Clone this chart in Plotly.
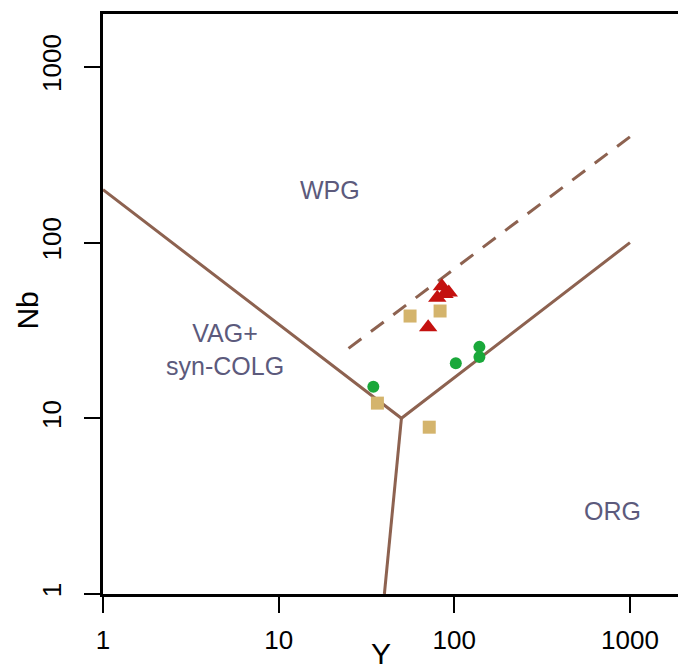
import plotly.graph_objects as go
import numpy as np

# Boundary lines (Pearce et al. 1984 Nb-Y)
bound1_y = [1, 50, 1000]
bound1_nb = [200, 10, 100]
bound2_y = [50, 40]
bound2_nb = [10, 1]
dash_y = [25, 1000]
dash_nb = [25, 400]

# Samples
tri_y = [85, 93, 80, 88, 71]
tri_nb = [56.5, 52, 48.5, 51, 33]
sq_y = [36.5, 56, 83, 72]
sq_nb = [12.2, 38.2, 40.8, 8.9]
ci_y = [34.6, 102, 139, 139]
ci_nb = [15.1, 20.6, 25.5, 22.3]

region_labels = ["WPG", "VAG+<br>syn-COLG", "ORG"]
region_x = [330, 225, 612]
region_yv = [190, 349, 511]

tick_vals = [1, 10, 100, 1000]
tick_text = ["1", "10", "100", "1000"]

line_col = "#8d6250"
lab_col = "#5c5a7c"

fig = go.Figure()
fig.add_trace(go.Scatter(x=bound1_y, y=bound1_nb, mode="lines",
                         line=dict(color=line_col, width=3), showlegend=False))
fig.add_trace(go.Scatter(x=bound2_y, y=bound2_nb, mode="lines",
                         line=dict(color=line_col, width=3), showlegend=False))
fig.add_trace(go.Scatter(x=dash_y, y=dash_nb, mode="lines",
                         line=dict(color=line_col, width=3, dash="16px,12px"), showlegend=False))
fig.add_trace(go.Scatter(x=sq_y, y=sq_nb, mode="markers",
                         marker=dict(symbol="square", size=13, color="#d4b46c"), showlegend=False))
fig.add_trace(go.Scatter(x=ci_y, y=ci_nb, mode="markers",
                         marker=dict(symbol="circle", size=12, color="#1aa83a"), showlegend=False))
fig.add_trace(go.Scatter(x=tri_y, y=tri_nb, mode="markers",
                         marker=dict(symbol="triangle-up", size=16, color="#c4110f"), showlegend=False))

W, H = 678, 672
L, T, B = 102.5, 14, 594
dec = 175.8
xr = [0, (W - L) / dec]
yr = [0, np.log10(2000)]

fig.update_layout(
    width=W, height=H,
    margin=dict(l=L, r=0, t=T, b=H - B),
    plot_bgcolor="white", paper_bgcolor="white",
    font=dict(family="Liberation Sans, Arial, sans-serif", color="black", size=26),
    xaxis=dict(type="log", range=xr, showgrid=False, zeroline=False,
               showline=True, mirror=True, linecolor="black", linewidth=3,
               ticks="outside", ticklen=16, tickwidth=2, tickcolor="black",
               tickvals=tick_vals, ticktext=tick_text, ticklabelstandoff=5,
               tickfont=dict(size=26)),
    yaxis=dict(type="log", range=yr, showgrid=False, zeroline=False,
               showline=True, mirror=False, linecolor="black", linewidth=3,
               ticks="outside", ticklen=16, tickwidth=2, tickcolor="black",
               tickvals=tick_vals, ticktext=tick_text, tickangle=-90, ticklabelstandoff=13,
               tickfont=dict(size=26)),
)

def paper_xy(px, py):
    return (px - L) / (W - L), (B - py) / (B - T)

for txt, px, py in zip(region_labels, region_x, region_yv):
    ax, ay = paper_xy(px, py)
    fig.add_annotation(text=txt, x=ax, y=ay, xref="paper", yref="paper",
                       showarrow=False, font=dict(size=25, color=lab_col),
                       xanchor="center", yanchor="middle")

ax, ay = paper_xy(381, 672)
fig.add_annotation(text="Y", x=ax, y=ay, xref="paper", yref="paper", showarrow=False,
                   font=dict(size=30, color="black"), xanchor="center", yanchor="bottom")
ax, ay = paper_xy(26, 311)
fig.add_annotation(text="Nb", x=ax, y=ay, xref="paper", yref="paper", showarrow=False,
                   textangle=-90, font=dict(size=30, color="black"),
                   xanchor="center", yanchor="middle")

fig.write_html("out.html")
